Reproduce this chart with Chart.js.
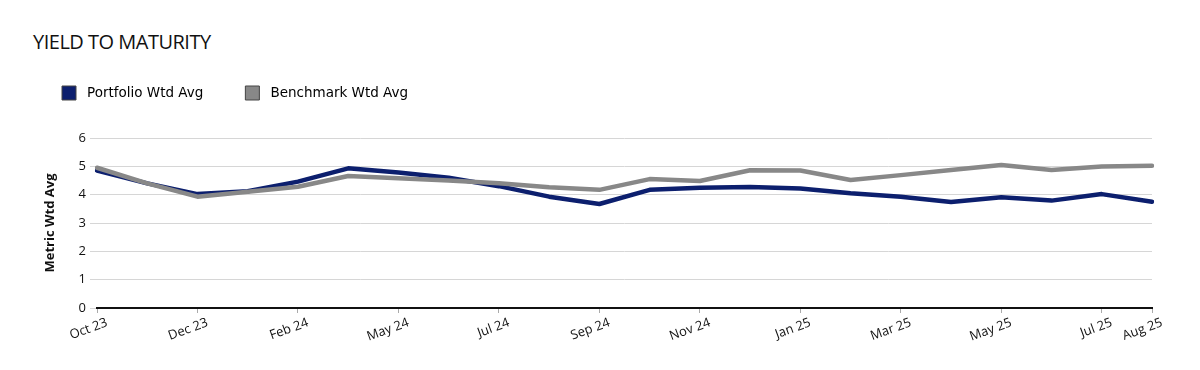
<!DOCTYPE html>
<html>
<head>
<meta charset="utf-8">
<script src="https://cdn.jsdelivr.net/npm/chart.js@4.4.1/dist/chart.umd.min.js"></script>
<style>
  html, body { margin: 0; padding: 0; background: #fff; }
  #wrap { position: relative; width: 1200px; height: 370px; }
  #title {
    position: absolute; left: 33px; top: 28px;
    font-family: "Open Sans", sans-serif; font-size: 20px; color: #111;
    letter-spacing: -0.5px;
  }
  canvas { position: absolute; left: 0; top: 0; }
</style>
</head>
<body>
<div id="wrap">
  <div id="title">YIELD TO MATURITY</div>
  <canvas id="chart" width="1200" height="370"></canvas>
</div>
<script>
const months = ["Oct 23", "Nov 23", "Dec 23", "Jan 24", "Feb 24", "Apr 24", "May 24", "Jun 24",
  "Jul 24", "Aug 24", "Sep 24", "Oct 24", "Nov 24", "Dec 24", "Jan 25", "Feb 25",
  "Mar 25", "Apr 25", "May 25", "Jun 25", "Jul 25", "Aug 25"];
const portfolio = [4.85, 4.4, 4.02, 4.12, 4.46, 4.93, 4.78, 4.6, 4.3, 3.93, 3.67, 4.17,
  4.24, 4.27, 4.22, 4.05, 3.93, 3.74, 3.91, 3.79, 4.02, 3.75];
const benchmark = [4.95, 4.4, 3.93, 4.1, 4.28, 4.66, 4.58, 4.5, 4.4, 4.26, 4.17, 4.55,
  4.48, 4.86, 4.85, 4.52, 4.69, 4.87, 5.05, 4.87, 4.99, 5.02];
const yTicks = [0, 1, 2, 3, 4, 5, 6];

const last = months.length - 1;
const shown = i => i % 2 === 0 || i === last;
const font = "'Open Sans', sans-serif";

// legend needs extra room under it so the plot starts lower
const legendSpace = {
  id: "legendSpace",
  beforeUpdate(chart) {
    const lg = chart.legend;
    if (!lg || lg._patched) return;
    const fit = lg.fit;
    lg.fit = function () { fit.call(this); this.height += 28; };
    lg._patched = true;
  }
};

new Chart(document.getElementById("chart"), {
  type: "line",
  data: {
    labels: months,
    datasets: [
      {
        label: "Portfolio Wtd Avg",
        data: portfolio,
        borderColor: "#0c1f6e",
        backgroundColor: "#0c1f6e",
        borderWidth: 4.5,
        pointRadius: 0,
        tension: 0,
        order: 2
      },
      {
        label: "Benchmark Wtd Avg",
        data: benchmark,
        borderColor: "#888888",
        backgroundColor: "#888888",
        borderWidth: 4.5,
        pointRadius: 0,
        tension: 0,
        order: 1
      }
    ]
  },
  plugins: [legendSpace],
  options: {
    responsive: false,
    animation: false,
    layout: { padding: { left: 20, right: 48, top: 44, bottom: 12 } },
    elements: { line: { borderJoinStyle: "round", borderCapStyle: "round" } },
    plugins: {
      tooltip: { enabled: false },
      legend: {
        position: "top",
        align: "start",
        labels: {
          sort: (a, b) => a.datasetIndex - b.datasetIndex,
          boxWidth: 14,
          boxHeight: 14,
          padding: 42,
          color: "#111",
          font: { family: "'DejaVu Sans', sans-serif", size: 13.5 },
          generateLabels: chart => chart.data.datasets.map((ds, i) => ({
            text: " " + ds.label,
            fillStyle: ds.borderColor,
            strokeStyle: "#444",
            lineWidth: 1,
            datasetIndex: i
          }))
        }
      }
    },
    scales: {
      x: {
        type: "category",
        border: { display: true, color: "#111", width: 2 },
        grid: {
          display: true,
          drawOnChartArea: false,
          drawTicks: true,
          tickLength: 5,
          color: ctx => shown(ctx.index) ? "#aaa" : "rgba(0,0,0,0)"
        },
        ticks: {
          autoSkip: false,
          minRotation: 20,
          maxRotation: 20,
          padding: 2,
          labelOffset: 10,
          color: "#111",
          font: { family: font, size: 13 },
          callback: (v, i) => shown(i) ? months[i] : ""
        },
        afterFit: s => { s.height = 50; }
      },
      y: {
        min: 0,
        max: 6,
        afterBuildTicks: s => { s.ticks = yTicks.map(v => ({ value: v })); },
        border: { display: false },
        grid: { color: "#d6d6d6", lineWidth: 1, tickLength: 7 },
        ticks: { color: "#111", padding: 4, font: { family: font, size: 13 } },
        title: {
          display: true,
          text: "Metric Wtd Avg",
          color: "#111",
          padding: { top: 22, bottom: 0 },
          font: { family: font, size: 13, weight: "bold" }
        },
        afterFit: s => { s.width = 77; }
      }
    }
  }
});
</script>
</body>
</html>
